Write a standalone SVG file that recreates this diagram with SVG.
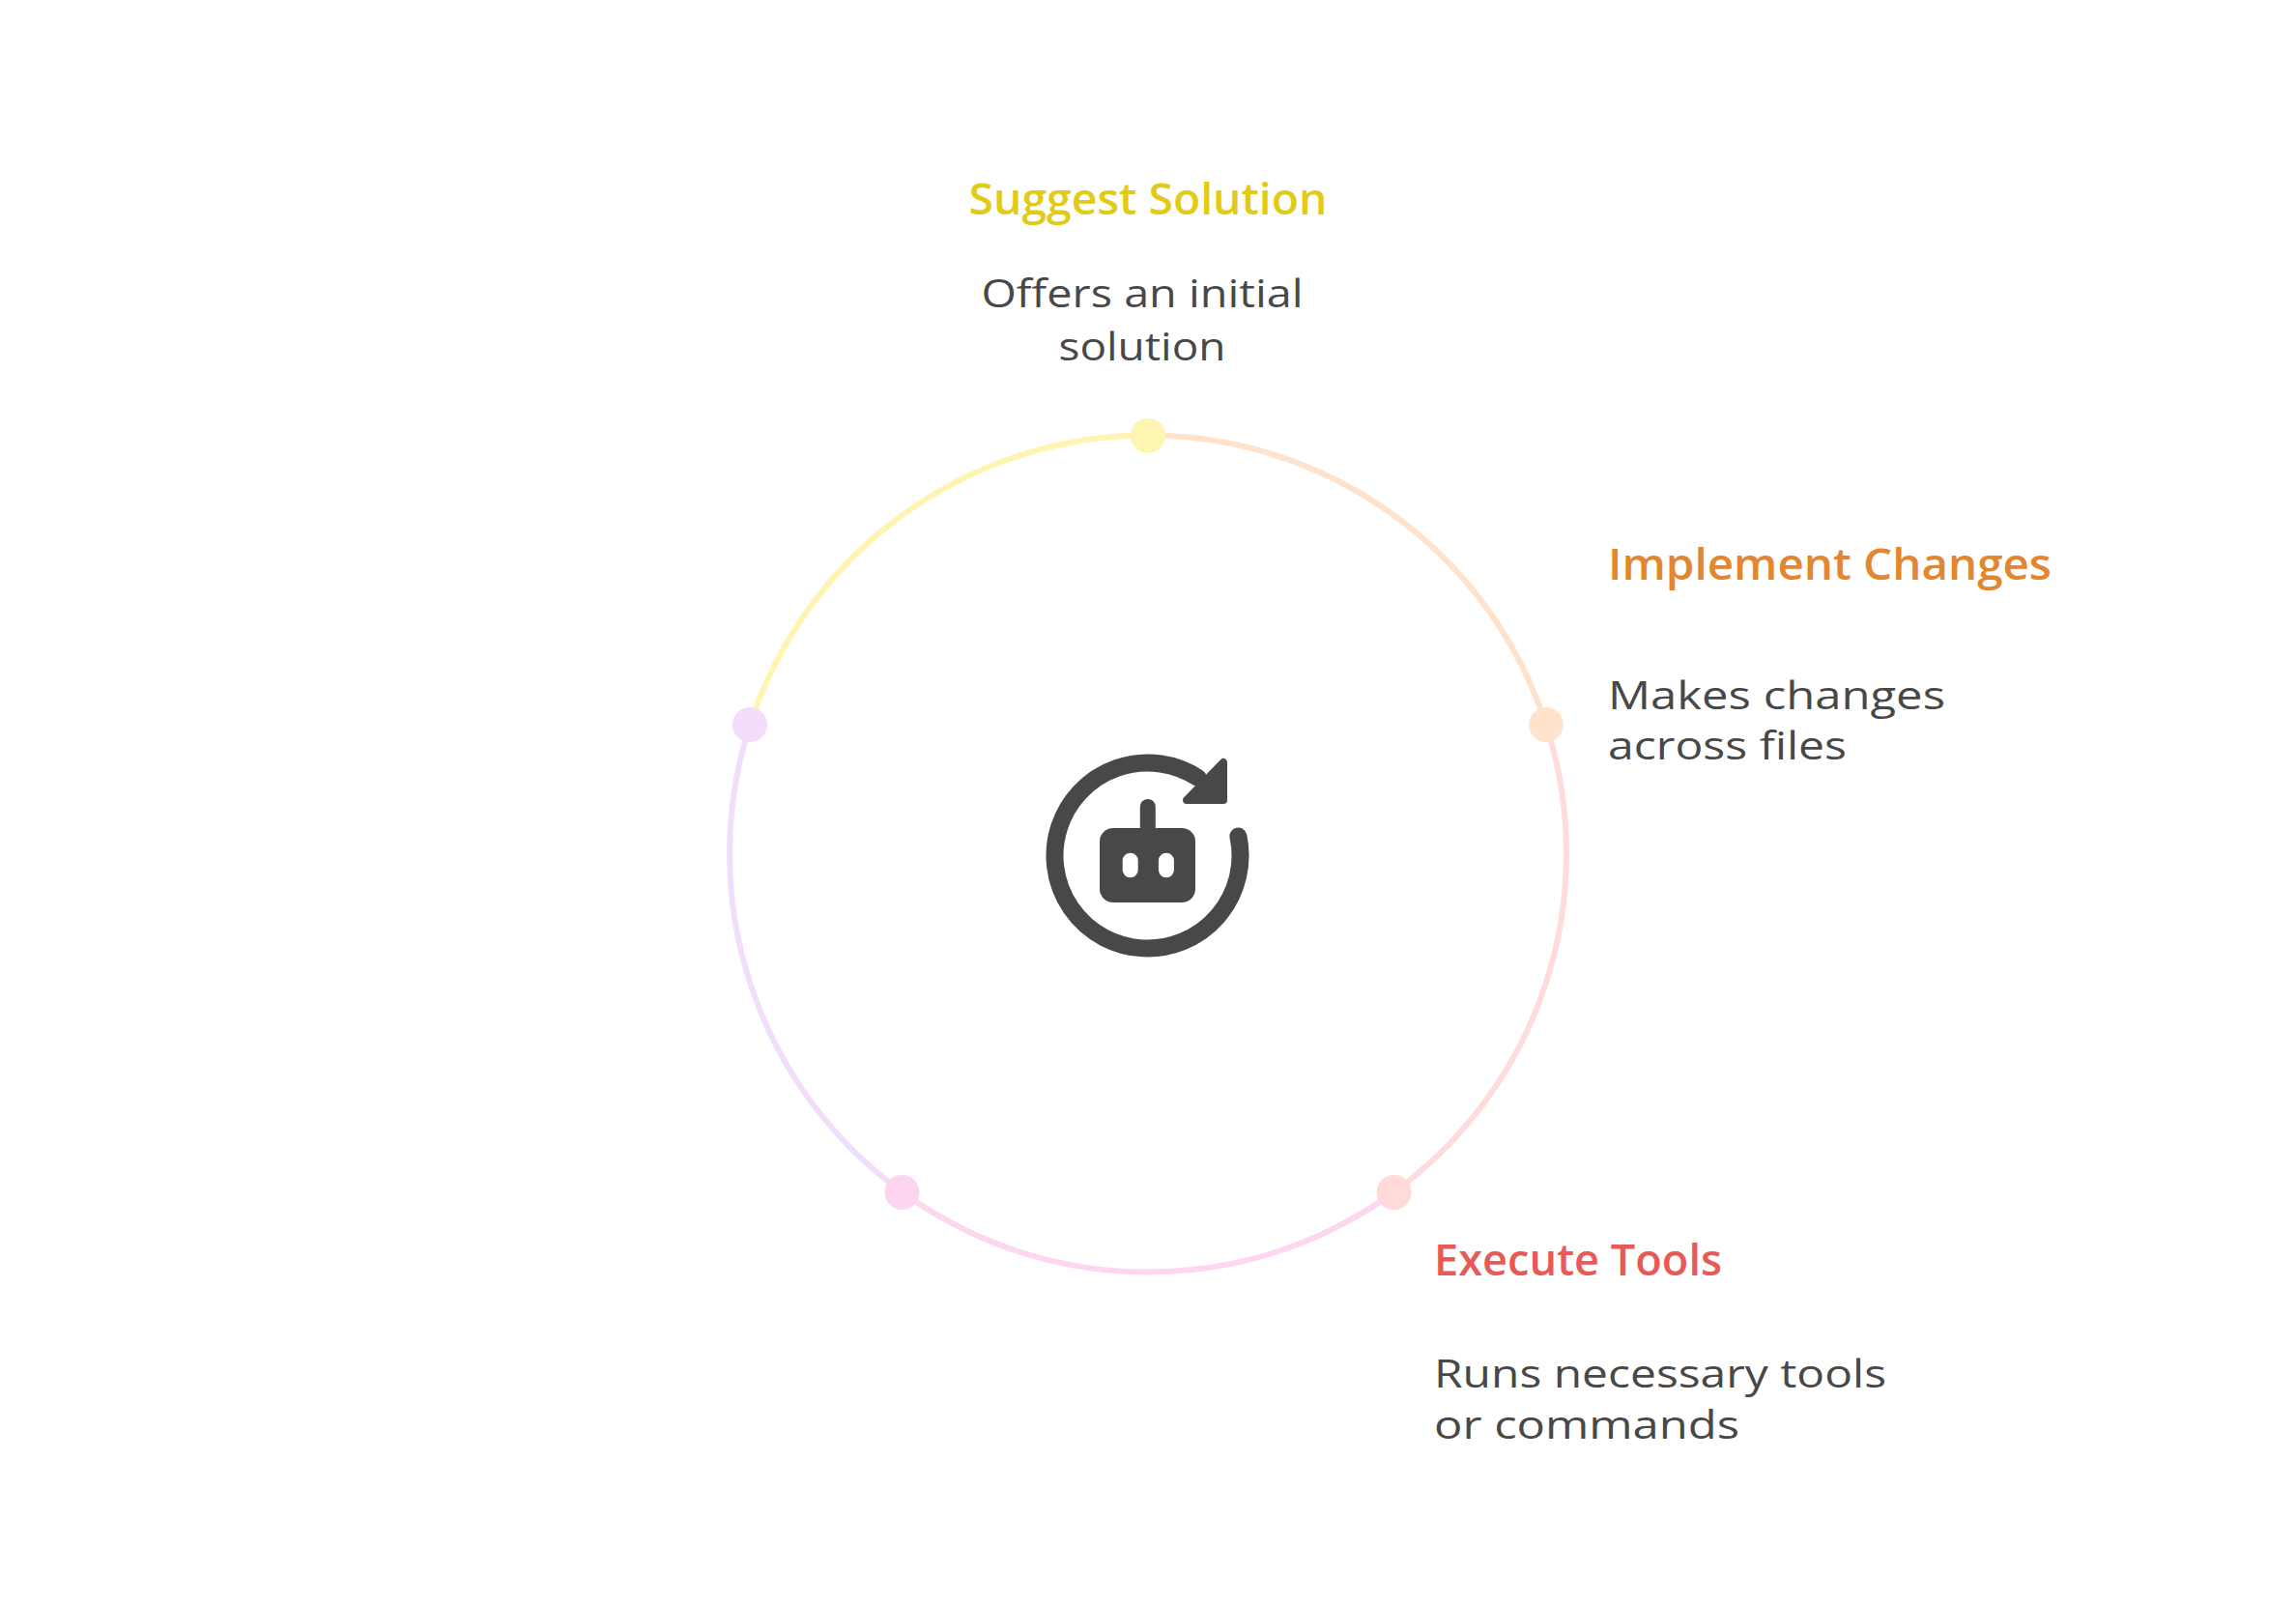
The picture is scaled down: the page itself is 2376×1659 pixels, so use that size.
<svg xmlns="http://www.w3.org/2000/svg" width="2376" height="1659" viewBox="0 0 2376 1659">
<style>
.title{font-family:"Open Sans","Liberation Sans",sans-serif;font-weight:600;font-size:46px}
.desc{font-family:"Open Sans","Liberation Sans",sans-serif;font-weight:400;font-size:41px;fill:#484848}
.arc{fill:none;stroke-width:6}
</style>
<rect width="2376" height="1659" fill="#ffffff"/>
<g id="connectors">
<path class="arc" stroke="#ffe2cb" d="M1188 450.5 A433 433 0 0 1 1599.8 749.7"/>
<path class="arc" stroke="#ffdcdb" d="M1599.8 749.7 A433 433 0 0 1 1442.5 1233.8"/>
<path class="arc" stroke="#fdd6f0" d="M1442.5 1233.8 A433 433 0 0 1 933.5 1233.8"/>
<path class="arc" stroke="#f2defb" d="M933.5 1233.8 A433 433 0 0 1 776.2 749.7"/>
<path class="arc" stroke="#fff5b3" d="M776.2 749.7 A433 433 0 0 1 1188 450.5"/>
</g>
<g id="node-suggest">
<circle cx="1188" cy="451" r="18" fill="#fff5b3"/>
<text class="title" x="1188" y="222" text-anchor="middle" fill="#e2cb17" textLength="371" lengthAdjust="spacingAndGlyphs">Suggest Solution</text>
<text class="desc" x="1182" y="318" text-anchor="middle" textLength="333" lengthAdjust="spacingAndGlyphs">Offers an initial</text>
<text class="desc" x="1182" y="373" text-anchor="middle" textLength="173" lengthAdjust="spacingAndGlyphs">solution</text>
</g>
<g id="node-implement">
<circle cx="1600" cy="750" r="18" fill="#ffe3cc"/>
<text class="title" x="1664" y="600" fill="#e2862f" textLength="459" lengthAdjust="spacingAndGlyphs">Implement Changes</text>
<text class="desc" x="1664" y="734" textLength="349" lengthAdjust="spacingAndGlyphs">Makes changes</text>
<text class="desc" x="1664" y="786" textLength="247" lengthAdjust="spacingAndGlyphs">across files</text>
</g>
<g id="node-execute">
<circle cx="1442.5" cy="1234" r="18" fill="#ffdad8"/>
<text class="title" x="1484" y="1320" fill="#e85a57" textLength="298" lengthAdjust="spacingAndGlyphs">Execute Tools</text>
<text class="desc" x="1484" y="1436" textLength="468" lengthAdjust="spacingAndGlyphs">Runs necessary tools</text>
<text class="desc" x="1484" y="1489" textLength="316" lengthAdjust="spacingAndGlyphs">or commands</text>
</g>
<g id="node-bottom-left">
<circle cx="933.5" cy="1234" r="18" fill="#fdd5ef"/>
</g>
<g id="node-left">
<circle cx="776" cy="750" r="18" fill="#f3dcfc"/>
</g>
<g id="center-icon">
<path d="M1281.4 865.5 A96 96 0 1 1 1239.8 805" fill="none" stroke="#484848" stroke-width="18" stroke-linecap="round"/>
<polygon points="1266,789 1266,828 1228,828" fill="#484848" stroke="#484848" stroke-width="8" stroke-linejoin="round"/>
<line x1="1187.8" y1="835" x2="1187.8" y2="862" stroke="#484848" stroke-width="16" stroke-linecap="round"/>
<rect x="1138" y="857" width="99" height="77" rx="14" fill="#484848"/>
<rect x="1161.7" y="882.7" width="16" height="25.6" rx="8" fill="#ffffff"/>
<rect x="1198.9" y="882.7" width="16" height="25.6" rx="8" fill="#ffffff"/>
</g>
</svg>
